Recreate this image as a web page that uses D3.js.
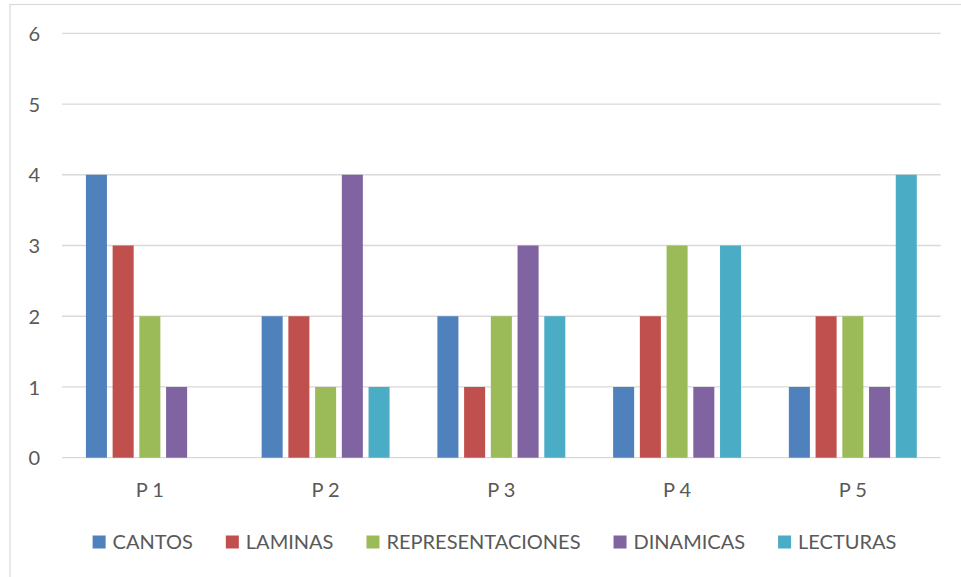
<!DOCTYPE html>
<html><head><meta charset="utf-8">
<script src="https://cdn.jsdelivr.net/npm/d3@7"></script>
<style>
html,body{margin:0;padding:0;background:#fff;}
svg{display:block;font-family:Lato, "Open Sans", sans-serif;}
</style></head>
<body>
<svg id="chart" width="961" height="577"></svg>
<script>
const categories = ["P 1", "P 2", "P 3", "P 4", "P 5"];
const seriesNames = ["CANTOS", "LAMINAS", "REPRESENTACIONES", "DINAMICAS", "LECTURAS"];
const cantos = [4, 2, 2, 1, 1];
const laminas = [3, 2, 1, 2, 2];
const representaciones = [2, 1, 2, 3, 2];
const dinamicas = [1, 4, 3, 1, 1];
const lecturas = [0, 1, 2, 3, 4];
const yTicks = [0, 1, 2, 3, 4, 5, 6];
const colors = ["#4F81BD", "#C0504D", "#9BBB59", "#8064A2", "#4BACC6"];

const seriesValues = [cantos, laminas, representaciones, dinamicas, lecturas];
const data = categories.map((c, i) => ({cat: c, vals: seriesNames.map((s, j) => ({s, v: seriesValues[j][i], j}))}));

const svg = d3.select("#chart");
const plotLeft = 62, plotRight = 940.7, plotTop = 33.3, plotBottom = 457.7;

// outer border (only top/left visible)
svg.append("rect").attr("x", 10).attr("y", 4.5).attr("width", 980).attr("height", 600)
  .attr("fill", "none").attr("stroke", "#d9d9d9").attr("stroke-width", 1.2);

const y = d3.scaleLinear().domain([0, 6]).range([plotBottom, plotTop]);
const x0 = d3.scaleBand().domain(categories).range([plotLeft, plotRight]).paddingInner(0.272).paddingOuter(0.136);
const x1 = d3.scaleBand().domain(seriesNames).range([0, x0.bandwidth()]).paddingInner(0.213).paddingOuter(0);

// gridlines
svg.append("g").selectAll("line").data(yTicks).join("line")
  .attr("x1", plotLeft).attr("x2", plotRight)
  .attr("y1", d => y(d)).attr("y2", d => y(d))
  .attr("stroke", "#d9d9d9").attr("stroke-width", 1.3);

// y axis labels
const yAxis = d3.axisLeft(y).tickValues(yTicks).tickSize(0).tickPadding(0).tickFormat(d3.format("d"));
const yg = svg.append("g").attr("transform", `translate(40,0)`).call(yAxis);
yg.select(".domain").remove();
yg.selectAll("text").attr("font-size", 20).attr("fill", "#595959").attr("font-family", "Lato, sans-serif").attr("dy", "0.36em");

// bars
const groups = svg.append("g").selectAll("g").data(data).join("g")
  .attr("transform", d => `translate(${x0(d.cat)},0)`);
groups.selectAll("rect").data(d => d.vals.filter(v => v.v > 0)).join("rect")
  .attr("x", d => x1(d.s)).attr("width", x1.bandwidth())
  .attr("y", d => y(d.v)).attr("height", d => y(0) - y(d.v))
  .attr("fill", d => colors[d.j]);

// x axis labels
const xAxis = d3.axisBottom(x0).tickSize(0).tickPadding(0);
const xg = svg.append("g").attr("transform", `translate(0,497)`).call(xAxis);
xg.select(".domain").remove();
xg.selectAll("text").attr("font-size", 20).attr("fill", "#595959").attr("font-family", "Lato, sans-serif").attr("dy", 0);

// legend
const legend = svg.append("g");
const items = legend.selectAll("g").data(seriesNames).join("g");
items.append("rect").attr("width", 13).attr("height", 13).attr("y", -13.5).attr("fill", (d, i) => colors[i]);
items.append("text").attr("x", 20).attr("y", 0).text(d => d)
  .attr("font-size", 20).attr("fill", "#595959").attr("font-family", "Lato, sans-serif");
let widths = [];
items.each(function() { widths.push(20 + this.querySelector("text").getComputedTextLength()); });
const gap = 33;
const total = d3.sum(widths) + gap * (widths.length - 1);
let cx = 494.5 - total / 2;
items.attr("transform", (d, i) => { const t = `translate(${cx},549)`; cx += widths[i] + gap; return t; });
</script>
</body></html>
